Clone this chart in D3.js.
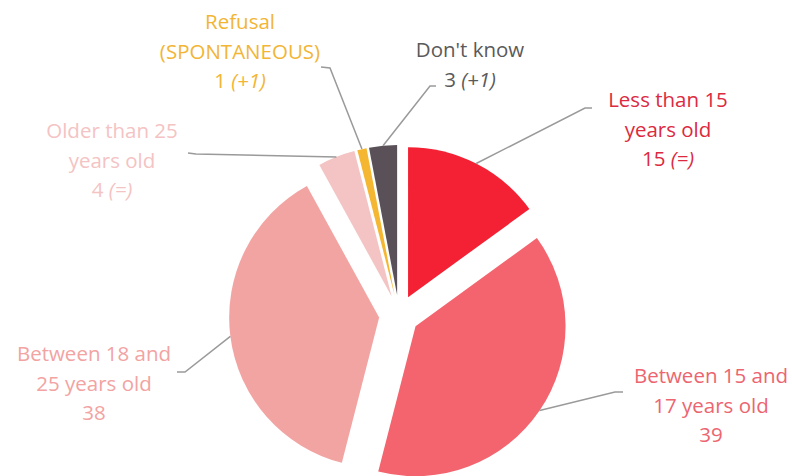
<!DOCTYPE html>
<html>
<head>
<meta charset="utf-8">
<script src="https://cdn.jsdelivr.net/npm/d3@7"></script>
<style>
  body { margin: 0; background: #fff; }
  svg { display: block; font-family: "Open Sans", sans-serif; }
</style>
</head>
<body>
<svg id="chart" width="792" height="476"></svg>
<script>
// data
const categories = ['Less than 15 years old', 'Between 15 and 17 years old', 'Between 18 and 25 years old',
  'Older than 25 years old', 'Refusal (SPONTANEOUS)', "Don't know"];
const values = [15, 39, 38, 4, 1, 3];
const changes = ['(=)', '', '', '(=)', '(+1)', '(+1)'];
const labelLines = [
  ['Less than 15', 'years old'],
  ['Between 15 and', '17 years old'],
  ['Between 18 and', '25 years old'],
  ['Older than 25', 'years old'],
  ['Refusal', '(SPONTANEOUS)'],
  ["Don't know"]
];

const sliceColors = ['#F42034', '#F4646E', '#F2A4A2', '#F3C4C3', '#F5B731', '#5A5158'];
const textColors = ['#DC2A40', '#EC6570', '#F2A3A2', '#F4C3C3', '#F2B535', '#5A5A5A'];

// label layout: elbow point, end of line, text anchor (centre x, first baseline)
const labelLayout = [
  { elbow: [585, 108], end: [592, 108], text: [668, 107] },
  { elbow: [615, 392], end: [623, 392], text: [711, 383] },
  { elbow: [185, 372], end: [177, 372], text: [94, 361] },
  { elbow: [196, 154], end: [188, 153], text: [112, 138] },
  { elbow: [330, 68], end: [321, 67], text: [240, 29] },
  { elbow: [430, 86], end: [436, 86], text: [470, 57] }
];

const cx = 399, cy = 315, radius = 150, explode = 20, lineGap = 29.5;

const svg = d3.select('#chart');
const g = svg.append('g').attr('transform', `translate(${cx},${cy})`);

const pie = d3.pie().sort(null).value(d => d);
const arc = d3.arc().innerRadius(0).outerRadius(radius);
const arcs = pie(values);

const shift = (d) => {
  const a = (d.startAngle + d.endAngle) / 2;
  return [Math.sin(a) * explode, -Math.cos(a) * explode];
};

g.selectAll('path.slice')
  .data(arcs)
  .enter()
  .append('path')
  .attr('class', 'slice')
  .attr('d', arc)
  .attr('transform', d => `translate(${shift(d)})`)
  .style('fill', (d, i) => sliceColors[i]);

// leader lines
svg.selectAll('polyline.leader')
  .data(arcs)
  .enter()
  .append('polyline')
  .attr('class', 'leader')
  .attr('points', (d, i) => {
    const a = (d.startAngle + d.endAngle) / 2;
    const s = shift(d);
    const p0 = [cx + s[0] + Math.sin(a) * radius, cy + s[1] - Math.cos(a) * radius];
    const l = labelLayout[i];
    return [p0, l.elbow, l.end].map(p => p.join(',')).join(' ');
  })
  .style('fill', 'none')
  .style('stroke', '#9A9A9A')
  .style('stroke-width', 1.5);

// labels
const labels = svg.selectAll('text.label')
  .data(arcs)
  .enter()
  .append('text')
  .attr('class', 'label')
  .attr('text-anchor', 'middle')
  .style('font-size', '20.5px')
  .style('fill', (d, i) => textColors[i]);

labels.each(function (d, i) {
  const t = d3.select(this);
  const [x, y] = labelLayout[i].text;
  labelLines[i].forEach((line, k) => {
    t.append('tspan').attr('x', x).attr('y', y + k * lineGap).text(line);
  });
  const last = t.append('tspan').attr('x', x).attr('y', y + labelLines[i].length * lineGap)
    .text(values[i]);
  if (changes[i]) {
    last.append('tspan').text(' ' + changes[i]).style('font-style', 'italic');
  }
});
</script>
</body>
</html>
